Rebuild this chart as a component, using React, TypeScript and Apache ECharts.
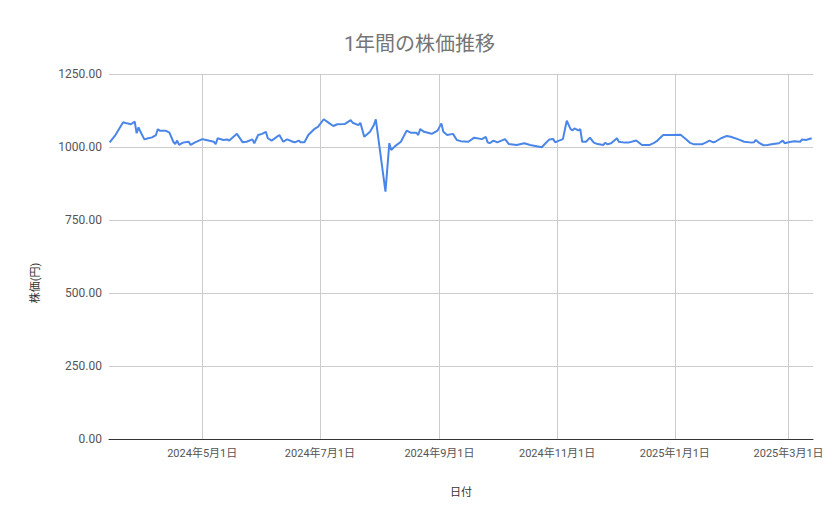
import React, { useEffect, useRef } from 'react';
import * as echarts from 'echarts';

const dates = [
  '2024-03-14', '2024-03-17', '2024-03-21', '2024-03-23', '2024-03-25', '2024-03-27', '2024-03-28', '2024-03-29',
  '2024-03-30', '2024-04-01', '2024-04-03', '2024-04-05', '2024-04-07', '2024-04-08', '2024-04-09', '2024-04-12',
  '2024-04-14', '2024-04-16', '2024-04-17', '2024-04-18', '2024-04-19', '2024-04-21', '2024-04-24', '2024-04-25',
  '2024-04-27', '2024-05-01', '2024-05-03', '2024-05-07', '2024-05-08', '2024-05-09', '2024-05-12', '2024-05-14',
  '2024-05-15', '2024-05-19', '2024-05-22', '2024-05-24', '2024-05-27', '2024-05-28', '2024-05-30', '2024-06-01',
  '2024-06-03', '2024-06-04', '2024-06-06', '2024-06-10', '2024-06-12', '2024-06-14', '2024-06-17', '2024-06-18',
  '2024-06-20', '2024-06-21', '2024-06-23', '2024-06-25', '2024-06-28', '2024-06-30', '2024-07-03', '2024-07-06',
  '2024-07-08', '2024-07-10', '2024-07-14', '2024-07-17', '2024-07-18', '2024-07-21', '2024-07-22', '2024-07-24',
  '2024-07-27', '2024-07-29', '2024-07-30', '2024-08-04', '2024-08-06', '2024-08-07', '2024-08-09', '2024-08-12',
  '2024-08-15', '2024-08-17', '2024-08-20', '2024-08-21', '2024-08-22', '2024-08-24', '2024-08-27', '2024-08-28',
  '2024-08-31', '2024-09-02', '2024-09-03', '2024-09-05', '2024-09-08', '2024-09-10', '2024-09-12', '2024-09-16',
  '2024-09-19', '2024-09-23', '2024-09-25', '2024-09-26', '2024-09-27', '2024-09-29', '2024-10-01', '2024-10-05',
  '2024-10-07', '2024-10-11', '2024-10-15', '2024-10-18', '2024-10-24', '2024-10-26', '2024-10-28', '2024-10-30',
  '2024-10-31', '2024-11-02', '2024-11-04', '2024-11-06', '2024-11-08', '2024-11-09', '2024-11-10', '2024-11-12',
  '2024-11-13', '2024-11-14', '2024-11-16', '2024-11-18', '2024-11-20', '2024-11-22', '2024-11-25', '2024-11-26',
  '2024-11-27', '2024-11-29', '2024-12-02', '2024-12-03', '2024-12-06', '2024-12-08', '2024-12-12', '2024-12-15',
  '2024-12-19', '2024-12-21', '2024-12-23', '2024-12-26', '2024-12-30', '2025-01-04', '2025-01-07', '2025-01-09',
  '2025-01-11', '2025-01-15', '2025-01-17', '2025-01-19', '2025-01-21', '2025-01-22', '2025-01-25', '2025-01-28',
  '2025-01-30', '2025-02-03', '2025-02-06', '2025-02-10', '2025-02-11', '2025-02-12', '2025-02-14', '2025-02-16',
  '2025-02-18', '2025-02-21', '2025-02-24', '2025-02-26', '2025-02-27', '2025-03-01', '2025-03-04', '2025-03-07',
  '2025-03-08', '2025-03-10', '2025-03-13',
];

const prices = [
  1016, 1041, 1085, 1081, 1078, 1087, 1047, 1067,
  1052, 1026, 1030, 1033, 1041, 1061, 1056, 1056,
  1049, 1018, 1010, 1022, 1007, 1015, 1018, 1007,
  1015, 1027, 1024, 1018, 1010, 1030, 1024, 1026,
  1022, 1045, 1016, 1018, 1026, 1013, 1041, 1045,
  1052, 1030, 1022, 1041, 1018, 1026, 1018, 1016,
  1022, 1016, 1016, 1041, 1061, 1069, 1095, 1081,
  1072, 1078, 1079, 1092, 1083, 1075, 1083, 1035,
  1052, 1075, 1095, 847, 1013, 990, 1003, 1018,
  1056, 1049, 1049, 1041, 1061, 1052, 1047, 1045,
  1056, 1081, 1052, 1041, 1045, 1024, 1020, 1018,
  1032, 1027, 1035, 1016, 1013, 1022, 1016, 1027,
  1010, 1007, 1013, 1007, 999, 1013, 1026, 1027,
  1016, 1022, 1027, 1090, 1061, 1057, 1064, 1057,
  1061, 1018, 1018, 1032, 1015, 1010, 1007, 1015,
  1009, 1013, 1030, 1018, 1015, 1015, 1022, 1007,
  1007, 1013, 1022, 1041, 1041, 1042, 1026, 1014,
  1009, 1009, 1015, 1022, 1016, 1018, 1030, 1038,
  1035, 1026, 1018, 1015, 1016, 1024, 1013, 1006,
  1007, 1010, 1013, 1022, 1013, 1016, 1020, 1018,
  1026, 1024, 1030,
];

const tickDates = ['2024-05-01', '2024-07-01', '2024-09-01', '2024-11-01', '2025-01-01', '2025-03-01'];

const FONT = "Roboto, 'Noto Sans CJK JP', sans-serif";

const toTime = (d: string) => new Date(d + 'T00:00:00').getTime();

const App: React.FC = () => {
  const chartRef = useRef<HTMLDivElement>(null);

  useEffect(() => {
    if (!chartRef.current) return;
    const chart = echarts.init(chartRef.current, undefined, { renderer: 'svg' });

    const tickValues = tickDates.map(toTime);
    const seriesData = dates.map((d, i) => [toTime(d), prices[i]]);

    const option: echarts.EChartsOption = {
      animation: false,
      backgroundColor: '#ffffff',
      textStyle: { fontFamily: FONT },
      title: {
        text: '1年間の株価推移',
        left: 'center',
        top: 29,
        textStyle: { fontSize: 20, fontWeight: 'normal', color: '#757575', fontFamily: FONT },
      },
      grid: { left: 109, right: 26, top: 74, bottom: 80 },
      xAxis: {
        type: 'value',
        // range runs a little past midnight so the month lines sit where the reference has them
        min: new Date('2024-03-13T16:00:00').getTime(),
        max: new Date('2025-03-13T16:00:00').getTime(),
        name: '日付',
        nameLocation: 'middle',
        nameGap: 48,
        nameTextStyle: { fontSize: 11, color: '#333', fontFamily: FONT },
        axisLine: { onZero: false, lineStyle: { color: '#333', width: 1 } },
        axisTick: { show: false, customValues: tickValues },
        axisLabel: {
          customValues: tickValues,
          fontSize: 11,
          color: '#555',
          margin: 9,
          fontFamily: FONT,
          formatter: (v: number) => {
            const dt = new Date(v);
            return `${dt.getFullYear()}年${dt.getMonth() + 1}月${dt.getDate()}日`;
          },
        },
        splitLine: { show: true, lineStyle: { color: '#cccccc', width: 1 } },
      },
      yAxis: {
        type: 'value',
        min: 0,
        max: 1250,
        interval: 250,
        axisLine: { show: false },
        axisTick: { show: false },
        axisLabel: {
          fontSize: 12,
          color: '#555',
          margin: 7,
          fontFamily: FONT,
          formatter: (v: number) => v.toFixed(2),
        },
        splitLine: { lineStyle: { color: '#cccccc', width: 1 } },
      },
      graphic: [
        {
          type: 'text',
          x: 35,
          y: 283,
          rotation: Math.PI / 2,
          style: {
            text: '株価(円)',
            fontSize: 11,
            fill: '#333',
            fontFamily: FONT,
            textAlign: 'center',
            textVerticalAlign: 'middle',
          },
        },
      ],
      series: [
        {
          name: '株価',
          type: 'line',
          data: seriesData,
          showSymbol: false,
          symbol: 'none',
          lineStyle: { color: '#4a86e8', width: 2 },
          itemStyle: { color: '#4a86e8' },
        },
      ],
    };

    chart.setOption(option);
    return () => chart.dispose();
  }, []);

  return (
    <div
      ref={chartRef}
      style={{ position: 'absolute', left: 0, top: 0, width: 839, height: 519 }}
    />
  );
};

export default App;
